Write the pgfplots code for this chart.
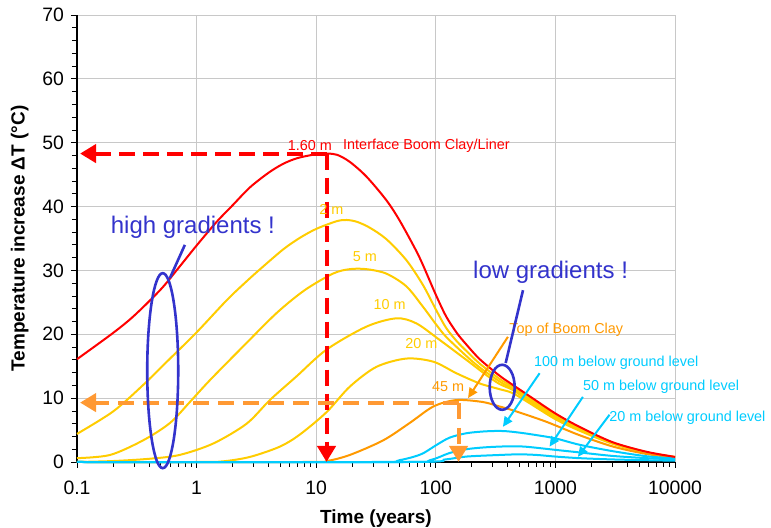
\documentclass[border=0pt]{standalone}
\usepackage{pgfplots}
\pgfplotsset{compat=1.18}
\usepackage{fontspec}
\setmainfont{Liberation Sans}
\usetikzlibrary{arrows.meta}
\definecolor{cred}{RGB}{255,0,0}
\definecolor{cyel}{RGB}{255,204,0}
\definecolor{corg}{RGB}{255,153,0}
\definecolor{cdash}{RGB}{255,153,51}
\definecolor{ccyan}{RGB}{0,204,255}
\definecolor{cblue}{RGB}{51,51,204}
\definecolor{cgrid}{RGB}{200,200,200}
\begin{document}
\begin{tikzpicture}
\useasboundingbox (-38.5pt,-33pt) rectangle (347pt,231pt);
\begin{axis}[
  scale only axis, width=299pt, height=223.5pt,
  xmode=log, xmin=0.1, xmax=10000, ymin=0, ymax=70,
  axis lines=left, axis line style={-, black, line width=0.6pt},
  xtick={0.1,1,10,100,1000,10000}, xticklabels={0.1,1,10,100,1000,10000},
  minor xtick={0.2,0.3,0.4,0.5,0.6,0.7,0.8,0.9,2,3,4,5,6,7,8,9,20,30,40,50,60,70,80,90,200,300,400,500,600,700,800,900,2000,3000,4000,5000,6000,7000,8000,9000},
  ytick={0,10,20,30,40,50,60,70}, minor y tick num=4,
  xmajorgrids, ymajorgrids, major grid style={cgrid, line width=0.5pt},
  tick align=outside, major tick length=3pt, minor tick length=2.5pt,
  every tick/.style={black, line width=0.4pt},
  tick label style={font=\fontsize{9.7}{10}\selectfont},
  xticklabel style={yshift=-3pt},
  /pgf/number format/assume math mode=true,
  xlabel={Time (years)}, ylabel={Temperature increase ΔT (°C)},
  label style={font=\fontsize{9.5}{11}\selectfont\bfseries},
  xlabel style={yshift=-0.8pt},
  clip=false,
  every axis plot/.append style={smooth, line width=1pt, no markers}
]
% 2 m
\addplot[cyel] coordinates {(0.1,4.4) (0.2,7.9) (0.35,11.9) (0.6,16.2) (1,20.3) (1.8,25.4) (2.62,28.3) (3.4,30.2) (5.3,33.3) (7.3,35.1) (10,36.5) (14.8,37.7) (18,37.9) (22,37.6) (28,36.7) (38.6,34.9) (56.8,31.6) (78.2,27.7) (100,23.9) (122,21.0) (150,18.9) (180,17.4) (233,15.4) (342,13.0) (438,11.8) (609,10.0) (1000,7.35) (1592,5.35) (3006,3.05) (5780,1.55) (10000,0.78)};
% 5 m
\addplot[cyel] coordinates {(0.1,0.6) (0.189,1.1) (0.358,3.4) (0.598,6.1) (0.879,9.4) (1.29,12.8) (2.45,18.1) (4.65,23.3) (8.0,26.9) (13.8,29.5) (19.1,30.2) (26.3,30.2) (38.6,29.5) (56.8,27.5) (78.2,24.3) (100,21.6) (122,19.6) (180,16.6) (233,14.8) (342,12.6) (438,11.5) (609,9.7) (1000,7.15) (1592,5.2) (3006,3.0) (5780,1.5) (10000,0.76)};
% 10 m
\addplot[cyel] coordinates {(0.1,0.0) (0.2,0.15) (0.4,0.5) (0.72,1.1) (1.38,2.9) (2.62,6.0) (4.1,9.7) (6.84,13.4) (12.2,17.6) (26.3,21.2) (46.9,22.5) (68.9,21.7) (108,19.1) (180,16.0) (265,13.6) (342,12.2) (438,11.3) (609,9.5) (1000,6.95) (1592,5.05) (3006,2.95) (5780,1.45) (10000,0.74)};
% 20 m
\addplot[cyel] coordinates {(0.1,0) (1.0,0) (1.66,0.1) (2.8,0.8) (4.96,2.4) (7.3,4.3) (12.2,7.8) (19.1,11.8) (31.9,14.9) (56.8,16.2) (95.6,15.7) (148.6,13.9) (233,12.3) (342,11.4) (438,10.8) (609,9.2) (1000,6.7) (1592,4.9) (3006,2.85) (5780,1.42) (10000,0.72)};
% 45 m (top of Boom Clay)
\addplot[corg] coordinates {(0.1,0) (8,0) (12.2,0.15) (19.1,1.1) (36.4,3.4) (60.4,6.1) (95.6,8.7) (148.6,9.7) (246,9.4) (340,8.7) (440,8.1) (840,6.3) (1590,4.2) (3050,2.4) (5800,1.25) (10000,0.7)};
% 20 m below ground level
\addplot[ccyan] coordinates {(0.1,0) (60,0) (120,0.4) (180,0.85) (342,1.1) (500,1.2) (700,1.1) (1000,0.85) (1590,0.6) (3000,0.4) (5800,0.28) (10000,0.2)};
% 50 m below ground level
\addplot[ccyan] coordinates {(0.1,0) (55,0) (90,0.3) (130,1.4) (180,2.0) (260,2.3) (400,2.45) (560,2.4) (1000,1.9) (1590,1.5) (3000,0.95) (5800,0.6) (10000,0.4)};
% 100 m below ground level
\addplot[ccyan] coordinates {(0.1,0) (30,0) (50,0.3) (75,1.2) (100,2.6) (130,3.8) (180,4.5) (260,4.8) (364,4.85) (500,4.6) (700,4.2) (1000,3.7) (1590,2.7) (3000,1.7) (5800,0.9) (10000,0.55)};
% 1.60 m interface
\addplot[cred] coordinates {(0.1,16.1) (0.2,20.2) (0.3,22.9) (0.5,27.0) (0.7,30.3) (1,33.9) (1.47,37.6) (2.0,40.2) (2.79,43.0) (4,45.3) (5.3,46.7) (7,47.6) (10,48.2) (12.4,48.3) (15,48.1) (19.1,47.0) (26.3,44.7) (38.6,41.0) (49.9,37.8) (68.9,33.0) (80,30.4) (100,26.2) (122,22.8) (150,20.2) (180,18.4) (233,16.1) (342,13.5) (438,12.1) (609,10.3) (1000,7.6) (1592,5.5) (3006,3.1) (5780,1.6) (10000,0.8)};

% dashed guides
\draw[cred, line width=2pt, dash pattern=on 8pt off 4pt, -{Triangle[width=9pt,length=8pt]}] (axis cs:12.2,48.3) -- (axis cs:0.106,48.3);
\draw[cred, line width=2pt, dash pattern=on 8pt off 4pt, -{Triangle[width=9pt,length=8pt]}] (axis cs:12.2,48.3) -- (axis cs:12.2,0);
\draw[cdash, line width=2pt, dash pattern=on 8pt off 4.5pt, -{Triangle[width=9pt,length=8pt]}] (axis cs:155,9.3) -- (axis cs:0.106,9.3);
\draw[cdash, line width=2pt, dash pattern=on 8pt off 4.5pt, -{Triangle[width=9pt,length=8pt]}] (axis cs:155,9.3) -- (axis cs:155,0);

% labels
\node[text=cred, font=\fontsize{7.2}{8}\selectfont] at (axis cs:8.86,49.5) {1.60 m};
\node[text=cred, font=\fontsize{7.2}{8}\selectfont, anchor=west, inner sep=0pt] at (axis cs:16.7,49.5) {Interface Boom Clay/Liner};
\node[text=cyel, font=\fontsize{7.2}{8}\selectfont] at (axis cs:13.4,39.5) {2 m};
\node[text=cyel, font=\fontsize{7.2}{8}\selectfont] at (axis cs:25.5,32.2) {5 m};
\node[text=cyel, font=\fontsize{7.2}{8}\selectfont] at (axis cs:41.2,24.7) {10 m};
\node[text=cyel, font=\fontsize{7.2}{8}\selectfont] at (axis cs:75.9,18.6) {20 m};
\node[text=corg, font=\fontsize{7.2}{8}\selectfont] at (axis cs:126.5,11.8) {45 m};
\node[text=corg, font=\fontsize{7.2}{8}\selectfont] at (axis cs:1233,20.7) {Top of Boom Clay};
\draw[corg, line width=1pt, -{Triangle[width=4.5pt,length=5pt]}] (axis cs:401,19.6) -- (axis cs:186,10.0);
\node[text=ccyan, font=\fontsize{7.2}{8}\selectfont] at (axis cs:3228,15.5) {100 m below ground level};
\node[text=ccyan, font=\fontsize{7.2}{8}\selectfont] at (axis cs:7650,11.8) {50 m below ground level};
\node[text=ccyan, font=\fontsize{7.2}{8}\selectfont] at (axis cs:12700,7.0) {20 m below ground level};
\draw[ccyan, line width=1pt, -{Triangle[width=4.5pt,length=5pt]}] (axis cs:738,13.9) -- (axis cs:364,5.5);
\draw[ccyan, line width=1pt, -{Triangle[width=4.5pt,length=5pt]}] (axis cs:1698,10.2) -- (axis cs:893,2.4);
\draw[ccyan, line width=1pt, -{Triangle[width=4.5pt,length=5pt]}] (axis cs:2837,7.4) -- (axis cs:1542,0.8);

% gradient annotations
\node[text=cblue, font=\fontsize{12}{14}\selectfont] at (axis cs:0.931,36.8) {high gradients !};
\draw[cblue, line width=1.3pt] (axis cs:0.521,14.3) ellipse [x radius=7.75pt, y radius=48.75pt];
\draw[cblue, line width=1.3pt] (axis cs:0.598,28.8) -- (axis cs:0.798,34.0);
\node[text=cblue, font=\fontsize{12}{14}\selectfont] at (axis cs:912,29.7) {low gradients !};
\draw[cblue, line width=1.3pt] (axis cs:359,11.7) ellipse [x radius=6.25pt, y radius=11.25pt];
\draw[cblue, line width=1.3pt] (axis cs:384,15.5) -- (axis cs:536,26.9);
\end{axis}
\end{tikzpicture}
\end{document}
